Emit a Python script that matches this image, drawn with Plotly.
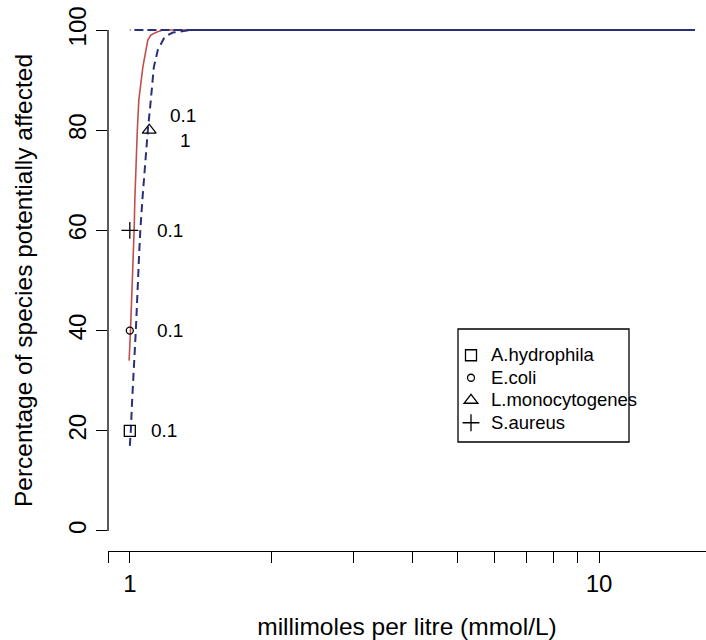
import math
import plotly.graph_objects as go

# ---------------- data ----------------
# fitted species-sensitivity curve (solid red)
fit_conc = [0.9966, 1.0034, 1.0214, 1.0249, 1.0375, 1.0452, 1.066, 1.0764, 1.0844,
            1.0924, 1.1085, 1.142, 1.176, 16.0]
fit_pct = [34, 40, 60, 66, 80, 86, 92.6, 95, 97, 98, 99, 99.6, 100, 100]

# lower confidence bound (dashed blue)
lo_conc = [1.0, 1.0049, 1.0114, 1.0299, 1.0477, 1.0529, 1.0633, 1.0924, 1.1086,
           1.125, 1.1472, 1.1874, 1.2353, 1.342, 16.0]
lo_pct = [17, 20, 26, 40, 56, 60, 66, 80, 86, 92.6, 96, 98.7, 99.5, 100, 100]

# upper confidence bound (dashed blue)
up_conc = [1.0, 16.0]
up_pct = [100, 100]

# species points
species = ["A.hydrophila", "E.coli", "L.monocytogenes", "S.aureus"]
sp_conc = [1.0, 1.0, 1.1, 1.0]
sp_pct = [20, 40, 80, 60]
sp_label = ["0.1", "0.1", "0.1", "0.1"]
extra_label = "1"  # second (partly hidden) label at L.monocytogenes

x_tickvals = [0.9, 1, 2, 3, 4, 5, 6, 7, 8, 9, 10, 20]
x_ticktext = ["", "1", "", "", "", "", "", "", "", "", "10", ""]
y_tickvals = [0, 20, 40, 60, 80, 100]

# ---------------- styles / layout ----------------
FONT = "Liberation Sans, Arial, sans-serif"
RED = "#C0504D"
NAVY = "#2A3078"
symbols = ["square-open", "circle-open", "triangle-up-open", "cross-thin-open"]
sizes = [11, 7, 12, 12]
label_shift = [(19, 0), (25, 0), (19, 15), (25, 0)]

W, H = 706, 640
ML, MR, MT, MB = 108, 0, 10, 89
pw, ph = W - ML - MR, H - MT - MB
XR = [math.log10(0.8985), math.log10(16.9)]
YR = [-4, 104]


def px2paper_x(px):
    return (px - ML) / pw


def px2paper_y(py):
    return (H - MB - py) / ph


def to_px(xv, yv):
    return (ML + (math.log10(xv) - XR[0]) / (XR[1] - XR[0]) * pw,
            MT + (YR[1] - yv) / (YR[1] - YR[0]) * ph)


# dash pattern of the lower bound; the upper bound gets a pattern phased so that,
# where both bounds run together at 100 %, the two dashed lines merge (as in R)
DASH, GAP = 8.0, 5.0
PER = DASH + GAP
pts = [to_px(a, b) for a, b in zip(lo_conc, lo_pct)]
k = lo_pct.index(max(lo_pct))
L0 = sum(math.dist(pts[i], pts[i + 1]) for i in range(k))
xs = to_px(up_conc[0], up_pct[0])[0]
delta = (L0 - pts[k][0] + xs) % PER
s = (DASH - 2 - delta) % PER          # upper dash covers lower gap with 2px margin
ud = GAP + 4                           # upper dash length
ug = PER - ud
if s + ud <= PER:
    up_dash = f"0px,{s:.2f}px,{ud:.2f}px,{PER - s - ud:.2f}px"
else:
    first = s + ud - PER
    up_dash = f"{first:.2f}px,{s - first:.2f}px,{PER - s:.2f}px,0px"

fig = go.Figure()

fig.add_trace(go.Scatter(x=fit_conc, y=fit_pct, mode="lines", showlegend=False,
                         line=dict(color=RED, width=1.6), hoverinfo="skip"))
fig.add_trace(go.Scatter(x=lo_conc, y=lo_pct, mode="lines", showlegend=False,
                         line=dict(color=NAVY, width=2, dash=f"{DASH}px,{GAP}px",
                                   simplify=False), hoverinfo="skip"))
fig.add_trace(go.Scatter(x=up_conc, y=up_pct, mode="lines", showlegend=False,
                         line=dict(color=NAVY, width=2, dash=up_dash, simplify=False),
                         hoverinfo="skip"))

for i, name in enumerate(species):
    fig.add_trace(go.Scatter(
        x=[sp_conc[i]], y=[sp_pct[i]], mode="markers",
        name="<span style='font-size:18.5px'>" + name + "</span>",
        marker=dict(symbol=symbols[i], size=sizes[i], color="black",
                    line=dict(color="black", width=1.3)),
    ))
    fig.add_annotation(x=math.log10(sp_conc[i]), y=sp_pct[i], xref="x", yref="y",
                       text=sp_label[i], showarrow=False, xanchor="left",
                       xshift=label_shift[i][0], yshift=label_shift[i][1],
                       font=dict(family=FONT, size=19, color="black"))

# extra "1" label below-right of the triangle
fig.add_annotation(x=math.log10(sp_conc[2]), y=sp_pct[2], xref="x", yref="y",
                   text=extra_label, showarrow=False, xanchor="left",
                   xshift=29, yshift=-10,
                   font=dict(family=FONT, size=19, color="black"))

# y axis line only from 0 to 100 (R style)
fig.add_shape(type="line", xref="paper", yref="y", x0=0, x1=0,
              y0=min(y_tickvals), y1=max(y_tickvals),
              line=dict(color="black", width=1.3))

# legend box
fig.add_shape(type="rect", xref="paper", yref="paper",
              x0=px2paper_x(458), x1=px2paper_x(629),
              y0=px2paper_y(442), y1=px2paper_y(329),
              line=dict(color="black", width=1.3), fillcolor="rgba(0,0,0,0)")

fig.update_layout(
    width=W, height=H,
    margin=dict(l=ML, r=MR, t=MT, b=MB),
    paper_bgcolor="white", plot_bgcolor="white",
    font=dict(family=FONT, size=24, color="black"),
    legend=dict(x=px2paper_x(451), y=px2paper_y(339), xanchor="left", yanchor="top",
                bgcolor="rgba(0,0,0,0)", borderwidth=0,
                font=dict(family=FONT, size=15, color="black")),
    xaxis=dict(type="log", range=XR,
               tickvals=x_tickvals, ticktext=x_ticktext,
               ticks="outside", ticklen=11, tickwidth=1.3, tickcolor="black",
               showline=True, linecolor="black", linewidth=1.3,
               showgrid=False, zeroline=False,
               tickfont=dict(family=FONT, size=24),
               title=dict(text="millimoles per litre (mmol/L)",
                          font=dict(family=FONT, size=24.5), standoff=24)),
    yaxis=dict(range=YR, tickvals=y_tickvals,
               ticks="outside", ticklen=11, tickwidth=1.3, tickcolor="black",
               showline=False, showgrid=False, zeroline=False,
               tickangle=-90,
               tickfont=dict(family=FONT, size=24),
               title=dict(text="Percentage of species potentially affected",
                          font=dict(family=FONT, size=24.5), standoff=24)),
)

fig.write_html("out.html")
